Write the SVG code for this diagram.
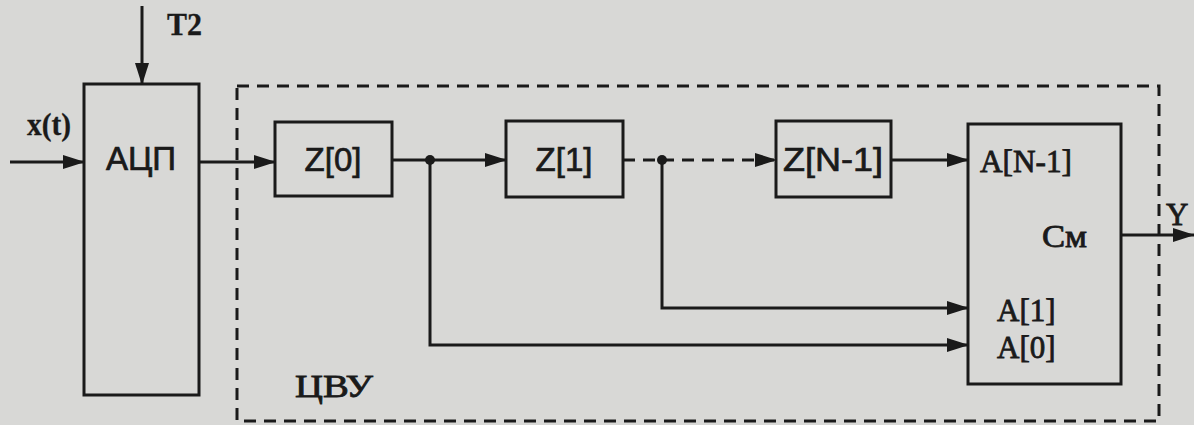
<svg xmlns="http://www.w3.org/2000/svg" width="1194" height="425" viewBox="0 0 1194 425">
<defs>
<marker id="ah" markerWidth="22" markerHeight="16" refX="21" refY="8" orient="auto" markerUnits="userSpaceOnUse">
<path d="M0,1 L22,8 L0,15 Z" fill="#1a1a1a"/>
</marker>
<style>
.bx{fill:none;stroke:#1a1a1a;stroke-width:3}
.ln{fill:none;stroke:#1a1a1a;stroke-width:3}
.dl{fill:none;stroke:#1a1a1a;stroke-width:3;stroke-dasharray:12 8}
.ss{font-family:"Liberation Sans",Arial,sans-serif;font-size:33px;fill:#1a1a1a;stroke:#1a1a1a;stroke-width:0.7;text-anchor:middle}
.sf{font-family:"Liberation Serif","Times New Roman",serif;font-size:31px;fill:#1a1a1a;stroke:#1a1a1a;stroke-width:0.8}
.sb{font-weight:bold;stroke-width:0.3}
</style>
</defs>
<rect width="1194" height="425" fill="#d8d8d6"/>
<g id="cvu">
<rect x="237" y="86" width="922" height="335" class="dl" stroke-dasharray="14 9"/>
<text x="295" y="397" class="sf" font-size="36" textLength="78" lengthAdjust="spacingAndGlyphs">ЦВУ</text>
</g>
<g id="adc">
<rect x="84" y="84" width="115" height="311" class="bx"/>
<text x="141" y="170" class="ss">АЦП</text>
</g>
<g id="z0">
<rect x="275" y="122" width="117" height="74" class="bx"/>
<text x="333" y="171" class="ss">Z[0]</text>
</g>
<g id="z1">
<rect x="506" y="121" width="117" height="76" class="bx"/>
<text x="564" y="171" class="ss">Z[1]</text>
</g>
<g id="zn">
<rect x="776" y="121" width="115" height="76" class="bx"/>
<text x="833" y="171" class="ss" textLength="100" lengthAdjust="spacingAndGlyphs">Z[N-1]</text>
</g>
<g id="sum">
<rect x="968" y="124" width="153" height="260" class="bx"/>
<text x="980" y="172" class="sf" textLength="92" lengthAdjust="spacingAndGlyphs">A[N-1]</text>
<text x="1042" y="247" class="sf" textLength="45" lengthAdjust="spacingAndGlyphs">См</text>
<text x="997" y="321" class="sf" font-size="32">A[1]</text>
<text x="997" y="358" class="sf" font-size="32">A[0]</text>
</g>
<g id="labels">
<text x="167" y="35" class="sf sb" textLength="35" lengthAdjust="spacingAndGlyphs">T2</text>
<text x="27" y="135" class="sf sb" textLength="44" lengthAdjust="spacingAndGlyphs">x(t)</text>
<text x="1166" y="225" class="sf">Y</text>
</g>
<g id="connectors">
<line x1="142" y1="6" x2="142" y2="84" class="ln" marker-end="url(#ah)"/>
<line x1="10" y1="162" x2="84" y2="162" class="ln" marker-end="url(#ah)"/>
<line x1="199" y1="162" x2="275" y2="162" class="ln" marker-end="url(#ah)"/>
<line x1="392" y1="160" x2="506" y2="160" class="ln" marker-end="url(#ah)"/>
<line x1="623" y1="160" x2="662" y2="160" class="dl"/>
<line x1="662" y1="160" x2="776" y2="160" class="dl" marker-end="url(#ah)"/>
<line x1="891" y1="160" x2="968" y2="160" class="ln" marker-end="url(#ah)"/>
<polyline points="662,160 662,308 968,308" class="ln" marker-end="url(#ah)"/>
<polyline points="430,160 430,345 968,345" class="ln" marker-end="url(#ah)"/>
<line x1="1121" y1="235" x2="1194" y2="235" class="ln" marker-end="url(#ah)"/>
<circle cx="430" cy="160" r="5" fill="#1a1a1a"/>
<circle cx="662" cy="160" r="5" fill="#1a1a1a"/>
</g>
</svg>
